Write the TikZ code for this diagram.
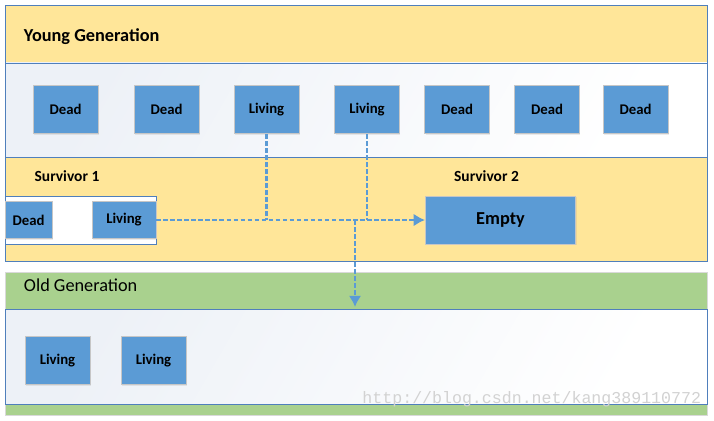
\documentclass[tikz,border=0pt]{standalone}
\usepackage{fontspec}
\setmainfont{Carlito}
\newfontfamily\wmfont{Liberation Mono}
\usetikzlibrary{arrows.meta,shadows}
\definecolor{bandyellow}{HTML}{FFE699}
\definecolor{bandgreen}{HTML}{A9D18E}
\definecolor{frameblue}{HTML}{4F7FBC}
\definecolor{cellblue}{HTML}{5B9BD5}
\definecolor{bodytint}{HTML}{EDF1F7}

\begin{document}
\begin{tikzpicture}[x=0.025cm, y=-0.025cm,
    cell/.style={draw=gray!45, fill=cellblue, font=\bfseries\fontsize{10.5}{12}\selectfont,
        inner sep=0pt, minimum width=46pt, minimum height=34.5pt,
        drop shadow={opacity=0.15, shadow xshift=0.8pt, shadow yshift=-0.8pt}},
    flow/.style={draw=cellblue, line width=1.9pt, dash pattern=on 3.2pt off 1.8pt},
    title/.style={anchor=west, font=\fontsize{13}{15}\selectfont}]
    \useasboundingbox (0,0) rectangle (714,420);

    % Young generation
    \fill[bandyellow] (5,5) rectangle (707,63);
    \shade[left color=bodytint, right color=white, shading angle=60] (5,63) rectangle (707,157);
    \draw[frameblue, thin] (5,5) rectangle (707,157);
    \draw[frameblue, thin] (5,63) -- (707,63);
    \node[title, font=\bfseries\fontsize{13}{15}\selectfont] (young) at (19,37) {Young Generation};

    \node[cell] (yd1) at (65.5,109.5) {Dead};
    \node[cell] (yd2) at (166.5,109.5) {Dead};
    \node[cell] (yl1) at (266.5,109.5) {Living};
    \node[cell] (yl2) at (367,109.5) {Living};
    \node[cell] (yd3) at (457,109.5) {Dead};
    \node[cell] (yd4) at (547,109.5) {Dead};
    \node[cell] (yd5) at (635.5,109.5) {Dead};

    % Survivor spaces
    \fill[bandyellow] (5,157) rectangle (707,261);
    \draw[frameblue, thin] (5,157) rectangle (707,261);
    \node[font=\bfseries\fontsize{11}{13}\selectfont] (s1) at (67,176) {Survivor 1};
    \node[font=\bfseries\fontsize{11}{13}\selectfont] (s2) at (486.5,176) {Survivor 2};

    \fill[white] (5,196) rectangle (156,244);
    \draw[frameblue, thin] (5,196) rectangle (156,244);
    \node[cell, minimum width=33.3pt, minimum height=26.5pt] (sd) at (28.5,220) {Dead};
    \node[cell, minimum width=45.4pt, minimum height=26.5pt] (sl) at (124,220) {Living};
    \node[cell, minimum width=107pt, minimum height=34pt,
        font=\bfseries\fontsize{13}{15}\selectfont] (empty) at (500.5,220) {Empty};

    % Old generation
    \fill[bandgreen] (5,272) rectangle (707,309);
    \shade[left color=bodytint, right color=white, shading angle=60] (5,309) rectangle (707,404);
    \fill[bandgreen] (5,404) rectangle (707,415);
    \draw[gray!30] (5,272) rectangle (707,415);
    \draw[frameblue, thin] (5,309) rectangle (707,404);
    \node[title] (old) at (19,285) {Old Generation};

    \node[cell] (ol1) at (57.5,360.5) {Living};
    \node[cell] (ol2) at (153.5,360.5) {Living};

    \node[anchor=east, text=gray!35, font=\wmfont\fontsize{11.8}{14}\selectfont] (wm) at (706,399)
        {http://blog.csdn.net/kang389110772};

    % copying paths
    \coordinate (split) at (355,220);
    \coordinate (drop) at (355,307);
    \draw[flow] (yl1.south) -- (yl1 |- sl.east);
    \draw[flow] (yl2.south) -- (yl2 |- sl.east);
    \draw[flow, -{Latex[length=8pt, width=9pt]}] (sl.east) -- (empty.west);
    \draw[flow, -{Latex[length=8pt, width=9pt]}] (split) -- (drop);

\end{tikzpicture}
\end{document}
